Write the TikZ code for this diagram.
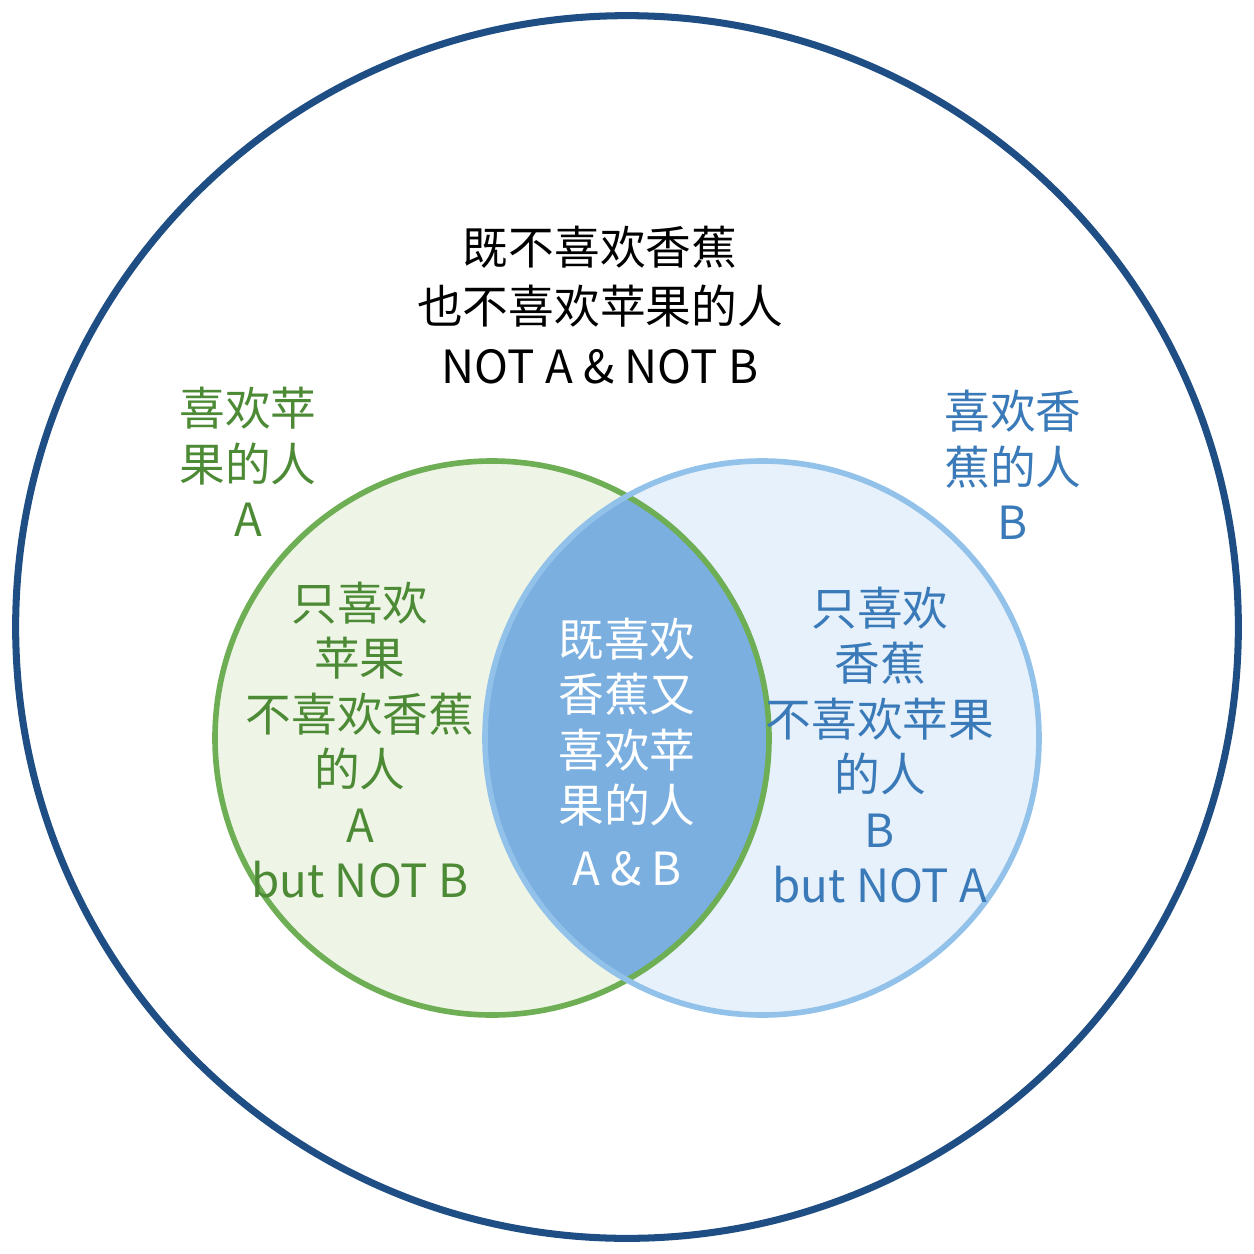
\documentclass[tikz,border=0pt]{standalone}
\usepackage{fontspec}
\setmainfont{Noto Sans CJK SC}
\usetikzlibrary{positioning}
\definecolor{outerblue}{HTML}{1F4E85}
\definecolor{appleline}{HTML}{6EAE55}
\definecolor{applefill}{HTML}{EEF5E6}
\definecolor{appletext}{HTML}{4D8A35}
\definecolor{bananaline}{HTML}{92C2EA}
\definecolor{bananafill}{HTML}{E7F1FC}
\definecolor{bananatext}{HTML}{3A7AB8}
\definecolor{bothfill}{HTML}{7BAFE0}
\begin{document}
\begin{tikzpicture}[x=0.01cm,y=-0.01cm,
				label/.style={align=center, font=\fontsize{13}{15.8}\selectfont, inner sep=0pt},
				set/.style={circle, minimum size=5.54cm, inner sep=0pt}
			]
			\useasboundingbox (0,0) rectangle (1254,1254);
			\node[circle, draw=outerblue, line width=2pt, minimum size=12.22cm] (universe) at (627,627) {};
			\node[set, fill=applefill] (apple) at (492,738) {};
			\node[set, fill=bananafill] (banana) at (762,738) {};
			\begin{scope}
			\clip (492,738) circle (277);
			\fill[bothfill] (762,738) circle (277);
			\end{scope}
			\draw[appleline, line width=1.6pt] (492,738) circle (277);
			\draw[bananaline, line width=1.6pt] (762,738) circle (277);
			% labels
			\node[label, font=\fontsize{13}{17}\selectfont] (neither) at (600,305) {既不喜欢香蕉\\也不喜欢苹果的人\\NOT A \& NOT B};
			\node[label, text=appletext] (applename) at (248,462) {喜欢苹\\果的人\\A};
			\node[label, text=bananatext] (banananame) at (1013,465) {喜欢香\\蕉的人\\B};
			\node[label, text=appletext] (appleonly) at (360,740) {只喜欢\\苹果\\不喜欢香蕉\\的人\\A\\but NOT B};
			\node[label, text=white] (both) at (627,752) {既喜欢\\香蕉又\\喜欢苹\\果的人\\[2pt]A \& B};
			\node[label, text=bananatext] (bananaonly) at (880,745) {只喜欢\\香蕉\\不喜欢苹果\\的人\\B\\but NOT A};
			\end{tikzpicture}
\end{document}
